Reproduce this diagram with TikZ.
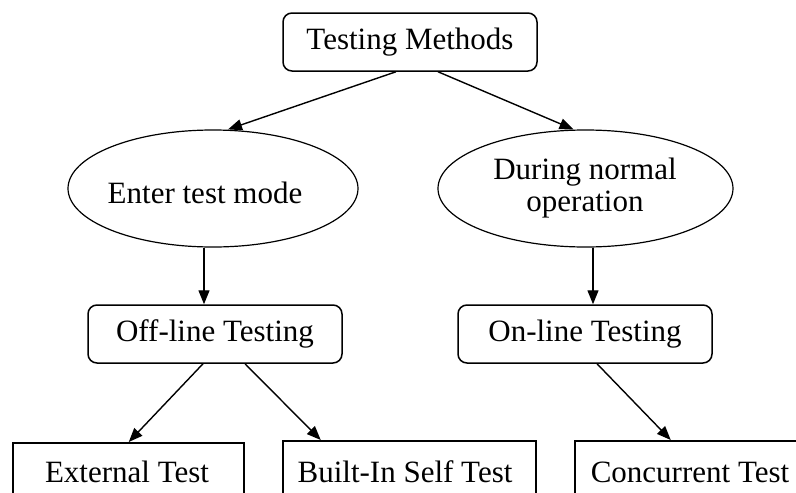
\documentclass[tikz,border=0pt]{standalone}
\usepackage{fontspec}
\setmainfont{Liberation Serif}
\usetikzlibrary{arrows.meta,calc,shapes.geometric}
\begin{document}
\begin{tikzpicture}[x=1pt,y=-1pt,
  every node/.style={font=\fontsize{31}{33}\selectfont, text=black},
  roundbox/.style={draw, line width=1.5pt, rounded corners=9pt, minimum width=254pt, minimum height=58pt, inner sep=0pt},
  plainbox/.style={draw, line width=1.5pt, minimum height=80pt, inner sep=0pt, text depth=0pt},
  oval/.style={draw, line width=1.2pt, ellipse, inner sep=0pt},
  link/.style={line width=1.4pt, -{Triangle[length=14pt,width=11pt]}}
]
\clip (0,0) rectangle (796,493);
\fill[white] (0,0) rectangle (796,493);

% root and the two branches
\node[roundbox] (tm) at (410,42) {Testing Methods};
\node[oval, minimum width=290pt, minimum height=117pt] (ent) at (213,188.5) {};
\node at (205,193) {Enter test mode};
\node[oval, minimum width=295pt, minimum height=117pt] (dur) at (585.5,188.5) {};
\node at (585,172) {During normal};
\node at (585,205) {operation};

% second level
\node[roundbox] (off) at (215,334) {Off-line Testing};
\node[roundbox] (on) at (585,334) {On-line Testing};

% leaves, running past the lower edge
\node[plainbox, minimum width=231pt, anchor=north west] (ext) at (12,442) {};
\node at (127,472) {External Test};
\node[plainbox, minimum width=253pt, anchor=north west] (bist) at (282,440) {};
\node at (405,472) {Built-In Self Test};
\node[plainbox, minimum width=240pt, anchor=north west] (conc) at (574,440) {};
\node at (690,472) {Concurrent Test};

% connectors
\draw[link] ($(tm.south)+(-14,0)$) -- ($(ent.north)+(15,0)$);
\draw[link] ($(tm.south)+(28,0)$) -- ($(dur.north)+(-12,0)$);
\draw[link] ($(ent.south)+(-9,0)$) -- ($(off.north)+(-11,0)$);
\draw[link] ($(dur.south)+(7.5,0)$) -- ($(on.north)+(8,0)$);
\draw[link] ($(off.south)+(-12,0)$) -- ($(ext.north)+(0.5,0)$);
\draw[link] ($(off.south)+(30,0)$) -- ($(bist.north)+(-88.5,0)$);
\draw[link] ($(on.south)+(12,0)$) -- ($(conc.north)+(-24,0)$);
\end{tikzpicture}
\end{document}
